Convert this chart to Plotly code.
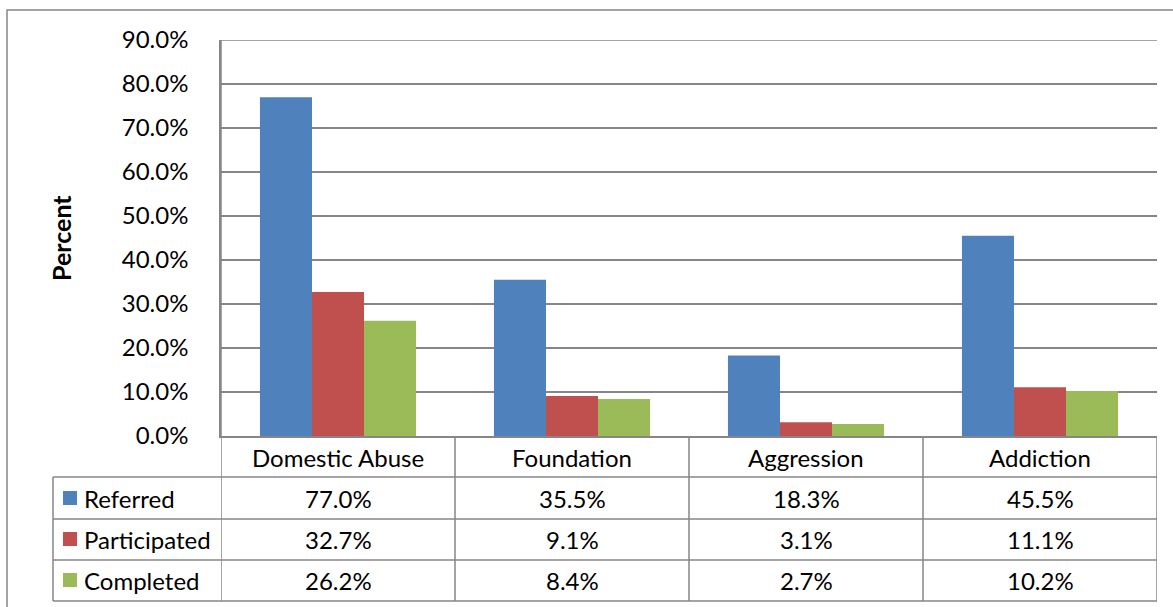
import plotly.graph_objects as go

categories = ["Domestic Abuse", "Foundation", "Aggression", "Addiction"]
series_names = ["Referred", "Participated", "Completed"]
referred = [77.0, 35.5, 18.3, 45.5]
participated = [32.7, 9.1, 3.1, 11.1]
completed = [26.2, 8.4, 2.7, 10.2]
series_values = [referred, participated, completed]
colors = ["#4F81BD", "#C0504D", "#9BBB59"]
y_ticks = [0, 10, 20, 30, 40, 50, 60, 70, 80, 90]

W, H = 1173, 607
L, R, T, B = 221, 1157, 40, 436  # plot area in pixels
FONT = "Lato"
FS = 24
GRID = "#868686"


def xp(px):
    return (px - L) / (R - L)


def yp(py):
    return (B - py) / (B - T)


fig = go.Figure()
xs = list(range(len(categories)))
for name, vals, col in zip(series_names, series_values, colors):
    fig.add_trace(go.Bar(x=xs, y=vals, name=name, marker_color=col,
                         marker_line_width=0, showlegend=False))

shapes = []
annotations = []

# outer chart border
shapes.append(dict(type="rect", xref="paper", yref="paper",
                   x0=xp(7), x1=xp(1190), y0=yp(10), y1=yp(625),
                   line=dict(color=GRID, width=1.5), layer="below"))

# top gridline (at range edge)
shapes.append(dict(type="line", xref="paper", yref="y", x0=0, x1=1,
                   y0=y_ticks[-1], y1=y_ticks[-1],
                   line=dict(color=GRID, width=1.5), layer="below"))

# table rows (pixel y of horizontal lines)
row_lines = [477, 519, 560, 601]
for py in row_lines:
    shapes.append(dict(type="line", xref="paper", yref="paper",
                       x0=xp(53), x1=1.0, y0=yp(py), y1=yp(py),
                       line=dict(color=GRID, width=1.5)))
# left legend column border
shapes.append(dict(type="line", xref="paper", yref="paper",
                   x0=xp(53), x1=xp(53), y0=yp(477), y1=yp(601),
                   line=dict(color=GRID, width=1.5)))
# vertical category boundaries (data coords)
for i in range(len(categories) + 1):
    shapes.append(dict(type="line", xref="x", yref="paper",
                       x0=i - 0.5, x1=i - 0.5, y0=yp(601), y1=0 if i else 1,
                       line=dict(color=GRID, width=1.5)))

# header category labels
for i, c in enumerate(categories):
    annotations.append(dict(x=i, y=yp(457), xref="x", yref="paper", text=c,
                            showarrow=False, font=dict(family=FONT, size=FS, color="black"),
                            xanchor="center", yanchor="middle"))

row_centers = [498, 539, 580]
for r, (name, vals, col) in enumerate(zip(series_names, series_values, colors)):
    cy = row_centers[r]
    shapes.append(dict(type="rect", xref="paper", yref="paper",
                       x0=xp(63), x1=xp(77), y0=yp(cy - 7), y1=yp(cy + 7),
                       fillcolor=col, line=dict(width=0)))
    annotations.append(dict(x=xp(82), y=yp(cy), xref="paper", yref="paper", text=name,
                            showarrow=False, font=dict(family=FONT, size=FS, color="black"),
                            xanchor="left", yanchor="middle"))
    for i, v in enumerate(vals):
        annotations.append(dict(x=i, y=yp(cy), xref="x", yref="paper", text=f"{v:.1f}%",
                                showarrow=False, font=dict(family=FONT, size=FS, color="black"),
                                xanchor="center", yanchor="middle"))

annotations.append(dict(x=xp(61), y=0.5, xref="paper", yref="paper", text="<b>Percent</b>",
                        textangle=-90, showarrow=False,
                        font=dict(family=FONT, size=25, color="black"),
                        xanchor="center", yanchor="middle"))

fig.update_layout(
    width=W, height=H,
    margin=dict(l=L, r=W - R, t=T, b=H - B, pad=0),
    paper_bgcolor="white", plot_bgcolor="white",
    barmode="group", bargap=0.333, bargroupgap=0,
    shapes=shapes, annotations=annotations,
    font=dict(family=FONT, size=FS, color="black"),
    xaxis=dict(range=[-0.5, len(categories) - 0.5], showticklabels=False,
               showgrid=False, zeroline=False, showline=True, linecolor=GRID,
               linewidth=1.5, ticks="", fixedrange=True),
    yaxis=dict(range=[0, 90], tickvals=y_ticks,
               ticktext=[f"{v:.1f}%" for v in y_ticks],
               showgrid=True, gridcolor=GRID, gridwidth=1.5, zeroline=False,
               showline=True, linecolor=GRID, linewidth=1.5, ticks="",
               ticklabelstandoff=26, tickfont=dict(family=FONT, size=FS, color="black"),
               fixedrange=True),
)

fig.write_html("out.html", config={"displayModeBar": False},
               post_script="document.body.style.margin='0';")
